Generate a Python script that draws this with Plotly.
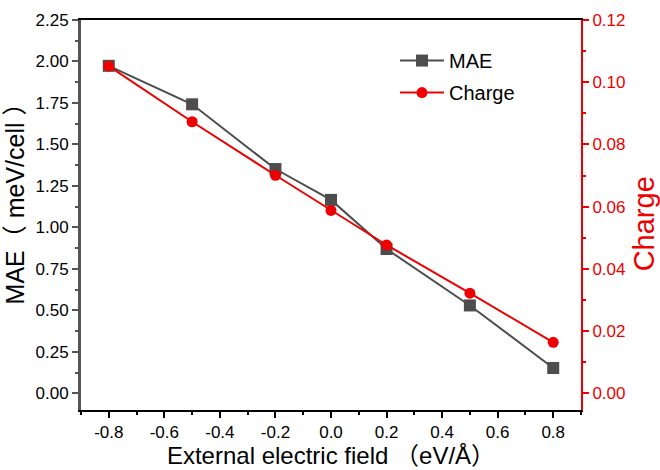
import plotly.graph_objects as go

field = [-0.8, -0.5, -0.2, 0.0, 0.2, 0.5, 0.8]
mae = [1.974, 1.742, 1.352, 1.166, 0.870, 0.530, 0.153]
charge = [0.1052, 0.0873, 0.0701, 0.0588, 0.0477, 0.0322, 0.0164]

x_tickvals = [-0.8, -0.6, -0.4, -0.2, 0.0, 0.2, 0.4, 0.6, 0.8]
x_ticktext = ["-0.8", "-0.6", "-0.4", "-0.2", "0.0", "0.2", "0.4", "0.6", "0.8"]

FONT = "Liberation Sans, Arial, Noto Sans CJK SC, sans-serif"
GRAY = "#4d4d4d"
RED = "#ee0000"

fig = go.Figure()
fig.add_trace(go.Scatter(
    x=field, y=mae, name="MAE", mode="lines+markers", legendgroup="a",
    line=dict(color=GRAY, width=2),
    marker=dict(symbol="square", size=12, color=GRAY),
))
fig.add_trace(go.Scatter(
    x=field, y=charge, name="Charge", mode="lines+markers", yaxis="y2", legendgroup="b",
    line=dict(color=RED, width=2),
    marker=dict(symbol="circle", size=11, color=RED),
))

fig.update_layout(
    width=660, height=470,
    margin=dict(l=81, r=79, t=11, b=57),
    paper_bgcolor="white", plot_bgcolor="white",
    font=dict(family=FONT, size=17, color="black"),
    showlegend=True,
    legend=dict(x=0.628, y=0.946, xanchor="left", yanchor="top",
                bgcolor="rgba(0,0,0,0)", font=dict(size=20, color="black"),
                itemwidth=44, tracegroupgap=3),
    xaxis=dict(
        range=[-0.9, 0.9], tickvals=x_tickvals, ticktext=x_ticktext,
        showgrid=False, zeroline=False,
        showline=True, linecolor="black", linewidth=2, mirror=True,
        ticks="outside", ticklen=6, tickwidth=2, tickcolor="black",
        minor=dict(dtick=0.1, tick0=0, ticks="outside", ticklen=3, tickwidth=2, tickcolor="black"),
        tickfont=dict(size=17, color="black"),
        title=dict(text="External electric field （eV/Å）", font=dict(size=24, color="black"), standoff=0),
    ),
    yaxis=dict(
        range=[-0.1, 2.25], dtick=0.25, tick0=0, tickformat=".2f",
        showgrid=False, zeroline=False,
        showline=True, linecolor="#555555", linewidth=3,
        ticks="outside", ticklen=6, tickwidth=2, tickcolor="#555555",
        minor=dict(dtick=0.125, tick0=0, ticks="outside", ticklen=3, tickwidth=2, tickcolor="#555555"),
        tickfont=dict(size=17, color="black"),
    ),
    yaxis2=dict(
        overlaying="y", side="right",
        range=[-0.1 * 0.12 / 2.25, 0.12], dtick=0.02, tick0=0, tickformat=".2f",
        showgrid=False, zeroline=False,
        showline=True, linecolor=RED, linewidth=2,
        ticks="outside", ticklen=6, tickwidth=2, tickcolor=RED,
        minor=dict(dtick=0.01, tick0=0, ticks="outside", ticklen=3, tickwidth=2, tickcolor=RED),
        tickfont=dict(size=17, color=RED),
    ),
    annotations=[
        dict(text="MAE（ meV/cell ）", textangle=-90, xref="paper", yref="paper",
             x=-0.132, y=0.545, xanchor="center", yanchor="middle", showarrow=False,
             font=dict(size=25, color="black")),
        dict(text="Charge", textangle=-90, xref="paper", yref="paper",
             x=1.126, y=0.476, xanchor="center", yanchor="middle", showarrow=False,
             font=dict(size=29, color=RED)),
    ],
)

fig.write_html("out.html")
